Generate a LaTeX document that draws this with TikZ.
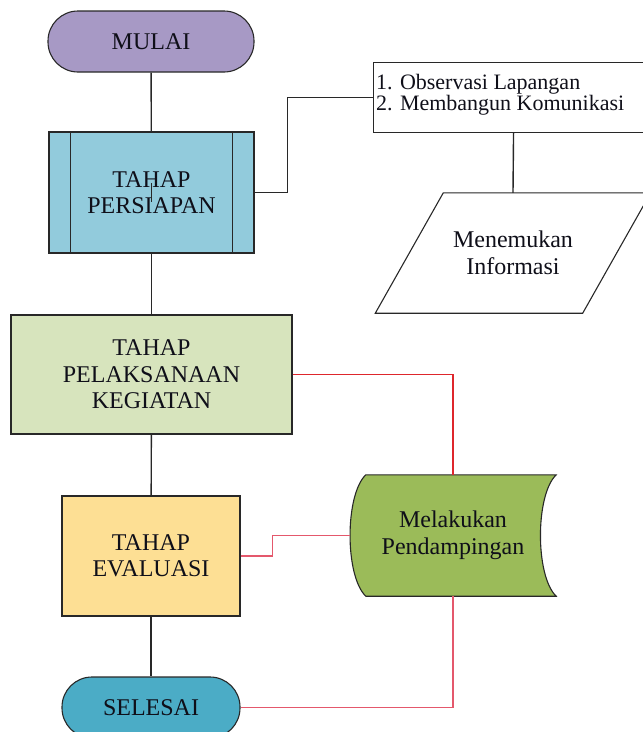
\documentclass[tikz,border=0pt]{standalone}
\usepackage{fontspec}
\setmainfont{Liberation Serif}
\usetikzlibrary{calc,backgrounds}
\definecolor{ungu}{RGB}{167,153,197}
\definecolor{birumuda}{RGB}{146,203,220}
\definecolor{hijaumuda}{RGB}{215,228,189}
\definecolor{kuning}{RGB}{253,223,148}
\definecolor{zaitun}{RGB}{155,187,89}
\definecolor{birutua}{RGB}{75,172,198}
\definecolor{garis}{RGB}{40,40,40}
\definecolor{merah}{RGB}{222,38,44}
\definecolor{merahmuda}{RGB}{228,88,108}
\definecolor{teks}{RGB}{15,15,25}
\begin{document}
\begin{tikzpicture}[x=1pt,y=-1pt,every node/.style={font=\fontsize{24}{26.5}\selectfont,text=teks,align=center},
term/.style={draw=garis,line width=1.1pt,rounded corners=30pt},proc/.style={draw=garis,line width=1.1pt},
link/.style={draw=garis,line width=1.4pt},redlink/.style={draw=merahmuda,line width=1.4pt}]
\useasboundingbox (0,0) rectangle (643,732); \clip (0,0) rectangle (643,732);
% alur utama
\node[term,fill=ungu,minimum width=206pt,minimum height=61pt] (mulai) at (151,41.5) {MULAI};
\node[proc,fill=birumuda,minimum width=205pt,minimum height=121pt] (ps) at (151.5,192.5) {TAHAP\\PERSIAPAN};
\draw[link] ([xshift=22pt]ps.north west)--([xshift=22pt]ps.south west) ([xshift=-22pt]ps.north east)--([xshift=-22pt]ps.south east);
\draw[draw=garis,line width=0.7pt] (151,183)--(151,202);
\node[proc,fill=hijaumuda,minimum width=281pt,minimum height=119pt] (pl) at (151.5,374.5) {TAHAP\\PELAKSANAAN\\KEGIATAN};
\node[proc,fill=kuning,minimum width=178pt,minimum height=120pt] (ev) at (151,556) {TAHAP\\EVALUASI};
\node[term,fill=birutua,minimum width=178pt,minimum height=61pt] (sl) at (151,707.5) {SELESAI};
\draw[link] (mulai)--(ps); \draw[link] (ps)--(pl); \draw[link] (pl)--(ev); \draw[link] (ev)--(sl);
% cabang persiapan
\node[proc,minimum width=280pt,minimum height=70pt,anchor=north west] (obs) at (373,62) {};
\node[anchor=north west,align=left,inner sep=0pt,font=\fontsize{22}{21.5}\selectfont] (obstxt) at (376,74) {1. Observasi Lapangan\\2. Membangun Komunikasi};
\node[minimum width=275pt,minimum height=120pt] (temu) at (513,253) {Menemukan\\Informasi};
\draw[draw=garis,line width=1.1pt] ([xshift=68pt]temu.north west)--(temu.north east)--([xshift=-68pt]temu.south east)--(temu.south west)--cycle;
\draw[link] (ps.east)--++(33,0) |- (obs.west); \draw[link] (obs.south)--(temu.north);
% pendampingan
\node[minimum width=206pt,minimum height=121pt] (mk) at (453,535.5) {Melakukan\\Pendampingan};
\begin{pgfonlayer}{background}
\draw[fill=zaitun,draw=garis,line width=1.1pt] ([xshift=16pt]mk.north west)--(mk.north east)
 .. controls ($(mk.north east)+(-21,20)$) and ($(mk.south east)+(-21,-20)$) .. (mk.south east)
 --([xshift=16pt]mk.south west)
 .. controls ($(mk.south west)+(-5,-20)$) and ($(mk.north west)+(-5,20)$) .. ([xshift=16pt]mk.north west)--cycle;
\end{pgfonlayer}
\draw[draw=merah,line width=1.8pt] (pl.east) -| (mk.north);
\draw[redlink] (ev.east)--++(32,0) |- (mk.west);
\draw[redlink] (sl.east) -| (mk.south);
\end{tikzpicture}
\end{document}
